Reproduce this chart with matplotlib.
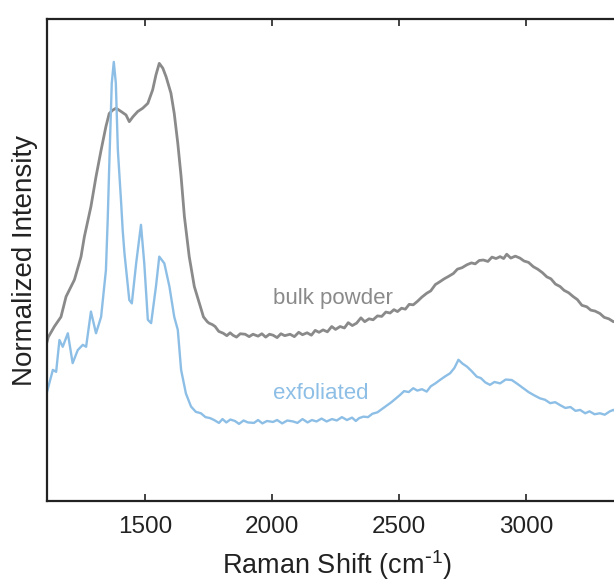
import matplotlib
matplotlib.use("Agg")
import matplotlib.pyplot as plt

plt.rcParams['font.family'] = ['Liberation Sans', 'DejaVu Sans']

# Raman spectra (wavenumber in cm^-1, normalized intensity with vertical offset)
bulk_shift = [1114, 1119, 1143, 1169, 1189, 1222, 1248, 1261, 1272, 1287, 1307, 1327,
              1346, 1359, 1373, 1386, 1406, 1425, 1438, 1452, 1471, 1491, 1511, 1530,
              1543, 1556, 1570, 1583, 1602, 1615, 1629, 1642, 1655, 1674, 1694, 1714,
              1730, 1745, 1752, 1765, 1776, 1790, 1808, 1822, 1835, 1846, 1860, 1875,
              1894, 1910, 1925, 1945, 1960, 1975, 1990, 2004, 2020, 2035, 2050, 2071,
              2088, 2105, 2120, 2138, 2155, 2170, 2185, 2201, 2218, 2235, 2250, 2268,
              2285, 2300, 2316, 2333, 2350, 2365, 2382, 2398, 2415, 2432, 2448, 2465,
              2480, 2494, 2510, 2525, 2540, 2556, 2572, 2590, 2609, 2625, 2643, 2661,
              2678, 2695, 2714, 2730, 2748, 2767, 2785, 2800, 2816, 2832, 2850, 2866,
              2882, 2898, 2912, 2924, 2940, 2958, 2976, 2992, 3010, 3029, 3046, 3064,
              3082, 3098, 3116, 3134, 3150, 3168, 3186, 3202, 3220, 3239, 3255, 3272,
              3291, 3308, 3326, 3344, 3360, 3380, 3400]
bulk_intensity = [0.330, 0.340, 0.362, 0.382, 0.424, 0.459, 0.507, 0.548, 0.575, 0.611,
                  0.673, 0.728, 0.777, 0.804, 0.811, 0.815, 0.808, 0.801, 0.787, 0.797,
                  0.808, 0.815, 0.825, 0.853, 0.884, 0.908, 0.898, 0.880, 0.846, 0.804,
                  0.742, 0.673, 0.590, 0.507, 0.445, 0.410,
                  0.382, 0.372, 0.369, 0.366, 0.362, 0.352, 0.348, 0.343, 0.349, 0.344,
                  0.340, 0.347, 0.346, 0.341, 0.346, 0.342, 0.347, 0.340, 0.346, 0.344,
                  0.339, 0.347, 0.343, 0.346, 0.341, 0.350, 0.345, 0.349, 0.344, 0.354,
                  0.350, 0.355, 0.351, 0.362, 0.356, 0.362, 0.359, 0.370, 0.364, 0.369,
                  0.380, 0.372, 0.378, 0.376, 0.384, 0.383, 0.392, 0.390, 0.397, 0.393,
                  0.400, 0.398, 0.408, 0.407, 0.414, 0.423, 0.431, 0.436, 0.449, 0.455,
                  0.461, 0.466, 0.472, 0.481, 0.484, 0.490, 0.494, 0.492, 0.499, 0.500,
                  0.497, 0.506, 0.503, 0.507, 0.503, 0.512, 0.504, 0.508, 0.504, 0.498,
                  0.495, 0.486, 0.481, 0.474, 0.465, 0.461, 0.450, 0.445, 0.437, 0.432,
                  0.424, 0.418, 0.406, 0.403, 0.396, 0.394, 0.389, 0.381, 0.378, 0.372,
                  0.375, 0.365, 0.360]

exf_shift = [1114, 1137, 1150, 1163, 1176, 1196, 1215, 1235, 1255, 1268, 1287, 1307,
             1327, 1346, 1353, 1359, 1369, 1377, 1385, 1393, 1406, 1412, 1419, 1438,
             1448, 1465, 1484, 1497, 1511, 1524, 1543, 1556, 1576, 1596, 1615, 1629,
             1642, 1661, 1681, 1700, 1720, 1738, 1756, 1772, 1791, 1805, 1820, 1836,
             1854, 1870, 1888, 1905, 1929, 1945, 1962, 1980, 2004, 2020, 2040, 2060,
             2083, 2100, 2120, 2140, 2157, 2175, 2195, 2215, 2236, 2255, 2275, 2295,
             2315, 2330, 2343, 2360, 2378, 2395, 2415, 2436, 2452, 2470, 2488, 2504,
             2520, 2538, 2556, 2572, 2590, 2609, 2625, 2643, 2661, 2680, 2701, 2718,
             2734, 2750, 2767, 2785, 2806, 2822, 2840, 2858, 2876, 2898, 2920, 2944,
             2966, 2989, 3010, 3033, 3055, 3075, 3095, 3115, 3134, 3155, 3175, 3195,
             3213, 3233, 3250, 3270, 3291, 3310, 3330, 3344, 3365, 3385, 3400]
exf_intensity = [0.226, 0.272, 0.268, 0.334, 0.320, 0.348, 0.286, 0.313, 0.324, 0.320,
                 0.393, 0.348, 0.382, 0.479, 0.583, 0.694, 0.867, 0.911, 0.867, 0.728,
                 0.618, 0.562, 0.514, 0.417, 0.410, 0.493, 0.573, 0.493, 0.376, 0.369,
                 0.445, 0.507, 0.493, 0.445, 0.382, 0.355, 0.272, 0.223, 0.196,
                 0.185, 0.182, 0.174, 0.172, 0.168, 0.162, 0.170, 0.163, 0.169, 0.166,
                 0.160, 0.167, 0.163, 0.162, 0.168, 0.161, 0.166, 0.164, 0.168, 0.161,
                 0.167, 0.165, 0.162, 0.170, 0.163, 0.168, 0.165, 0.171, 0.165, 0.170,
                 0.167, 0.174, 0.168, 0.173, 0.166, 0.172, 0.175, 0.174, 0.181, 0.184,
                 0.192, 0.198, 0.205, 0.213, 0.220, 0.228, 0.226, 0.234, 0.229, 0.232,
                 0.227, 0.238, 0.244, 0.251, 0.258, 0.265, 0.276, 0.293, 0.285, 0.279,
                 0.270, 0.258, 0.255, 0.246, 0.241, 0.247, 0.244, 0.252, 0.251, 0.243,
                 0.234, 0.226, 0.219, 0.213, 0.210, 0.203, 0.205, 0.199, 0.193, 0.195,
                 0.187, 0.189, 0.182, 0.186, 0.180, 0.182, 0.179, 0.186, 0.189, 0.181,
                 0.184, 0.180]

x_ticks = [1500, 2000, 2500, 3000]
bulk_color = '#8a8a8a'
exf_color = '#8dbfe6'

fig = plt.figure(figsize=(6.14, 5.83), dpi=100)
ax = fig.add_axes([47 / 614, 82 / 583, 580.6 / 614, 482 / 583])

ax.plot(bulk_shift, bulk_intensity, color=bulk_color, lw=2.0)
ax.plot(exf_shift, exf_intensity, color=exf_color, lw=1.7)

ax.set_xticks(x_ticks)
ax.set_yticks([])
ax.set_xlim(1114, 3400)
ax.set_ylim(0, 1)
ax.tick_params(axis='x', which='both', direction='in', top=True, bottom=True,
               length=5, width=1.2, labelsize=17.5, pad=11, colors='#222222')
for s in ax.spines.values():
    s.set_linewidth(1.6)
    s.set_color('#222222')

ax.text(2004, 0.421, 'bulk powder', color=bulk_color, fontsize=16,
        ha='left', va='center')
ax.text(2004, 0.224, 'exfoliated', color=exf_color, fontsize=16,
        ha='left', va='center')

ax.set_xlabel(r'Raman Shift (cm$\mathregular{^{\text{-}1}}$)', fontsize=19.5,
              color='#222222', va='center')
ax.xaxis.set_label_coords(0.5, -0.133)
ax.set_ylabel('Normalized Intensity', fontsize=20, color='#222222', va='center')
ax.yaxis.set_label_coords(-0.038, 0.5)

fig.savefig('out.png', dpi=100)
